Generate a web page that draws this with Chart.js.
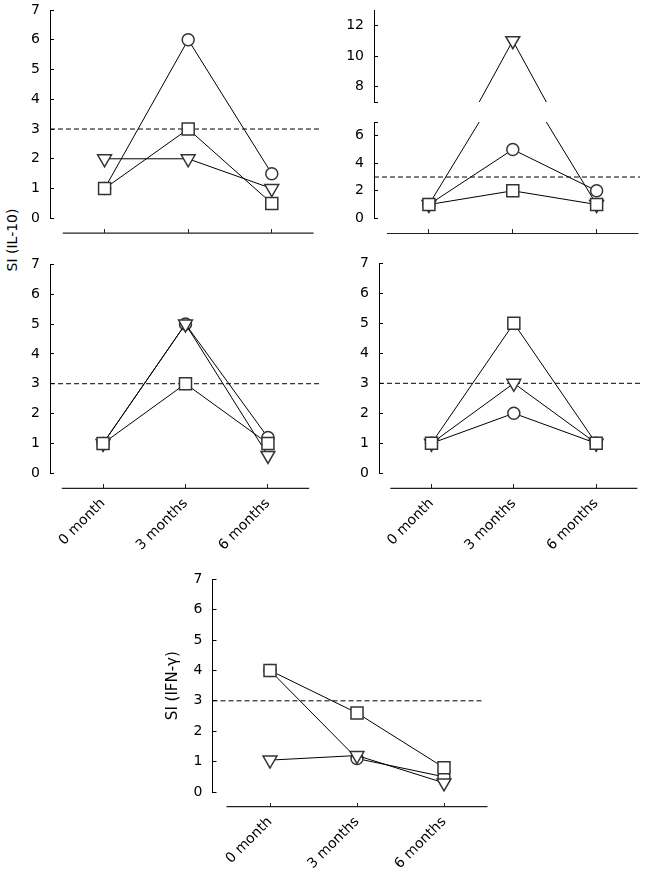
<!DOCTYPE html>
<html>
<head>
<meta charset="utf-8">
<script src="https://cdn.jsdelivr.net/npm/chart.js@4.4.0/dist/chart.umd.min.js"></script>
<style>
  body { margin: 0; background: #fff; }
  #page { position: relative; width: 650px; height: 875px; overflow: hidden; }
  #page canvas { position: absolute; }
  .ytitle {
    position: absolute; font: 14px "DejaVu Sans", sans-serif; color: #000;
    white-space: nowrap; transform: translate(-50%, -50%) rotate(-90deg);
  }
</style>
</head>
<body>
<div id="page">
  <div class="ytitle" style="left:12px; top:240px;">SI (IL-10)</div>
</div>
<script>
const months = [0, 3, 6];
const monthLabels = ["0 month", "3 months", "6 months"];
const threshold = 3;

// SI (IL-10) panels
const tlSquare = [1, 3, 0.5];
const tlTriangle = [2, 2, 1];
const tlCircle = [1, 6, 1.5];

const trSquare = [1, 2, 1];
const trTriangle = [1, 11, 1];
const trCircle = [1, 5, 2];

const mlSquare = [1, 3, 1];
const mlTriangle = [1, 5, 0.6];
const mlCircle = [1, 5, 1.2];

const mrSquare = [1, 5, 1];
const mrTriangle = [1, 3, 1];
const mrCircle = [1, 2, 1];

// SI (IFN-γ) panel
const bSquare = [4, 2.6, 0.8];
const bTriangle = [1.05, 1.2, 0.3];
const bCircle = [4, 1.1, 0.5];

const yTicksFull = [0, 1, 2, 3, 4, 5, 6, 7];
const yTicksLow = [0, 2, 4, 6, 7];
const yTicksHigh = [7, 8, 10, 12];

Chart.defaults.font.family = "'DejaVu Sans', sans-serif";
Chart.defaults.font.size = 14;
Chart.defaults.color = "#000";

const markers = {
  square: { pointStyle: "rect", pointRadius: 8.5, pointRotation: 0 },
  triangle: { pointStyle: "triangle", pointRadius: 8, pointRotation: 180 },
  circle: { pointStyle: "circle", pointRadius: 6, pointRotation: 0 }
};

function seriesSet(kind, values) {
  return Object.assign({
    data: values.map((v, i) => ({ x: months[i], y: v })),
    borderColor: "#000",
    borderWidth: 1,
    pointBackgroundColor: "#fff",
    pointBorderColor: "#333",
    pointBorderWidth: 1.5,
    pointHoverRadius: 0,
    tension: 0
  }, markers[kind]);
}

// box: canvas rect on the page, g: pixel geometry of the plot
function panel(box, g, yMin, yMax, yTicks, series, extra) {
  const canvas = document.createElement("canvas");
  canvas.width = box.w;
  canvas.height = box.h;
  canvas.style.left = box.x + "px";
  canvas.style.top = box.y + "px";
  document.getElementById("page").appendChild(canvas);

  const pxMonth = g.step / 3;
  const xMin = -(g.tick0 - g.axisX) / pxMonth;
  const xMax = (g.right - g.tick0) / pxMonth;
  const pxUnit = (g.bottom - g.top) / (yMax - yMin);
  const axisW = extra.axisW || 30;

  const datasets = series.map(s => seriesSet(s[0], s[1]));
  if (extra.dashed) {
    datasets.push({
      data: [{ x: xMin, y: threshold }, { x: extra.dashEnd || xMax, y: threshold }],
      borderColor: "#000", borderWidth: 1, borderDash: [5, 3],
      pointRadius: 0, clip: false
    });
  }
  let xPos = "bottom";
  if (g.xAxisY) {
    const axisVal = yMin - (g.xAxisY - g.bottom) / pxUnit;
    xPos = { y: axisVal };
    datasets.push({
      data: [{ x: -1.5, y: axisVal }, { x: 7.5, y: axisVal }],
      borderColor: "#222", borderWidth: 1.2,
      pointRadius: 0, clip: false
    });
  }

  const yScale = {
    type: "linear",
    position: "left",
    min: yMin,
    max: yMax,
    afterBuildTicks: s => { s.ticks = yTicks.map(v => ({ value: v })); },
    afterFit: s => { s.width = axisW; s.paddingTop = 0; s.paddingBottom = 0; },
    ticks: {
      padding: 14,
      callback: v => (extra.hide || []).includes(v) ? "" : v
    },
    grid: { drawOnChartArea: false, tickLength: -4, color: "#000", lineWidth: 1 },
    border: { color: "#000", width: 1 }
  };
  if (extra.title) {
    yScale.title = { display: true, text: extra.title, font: { size: 15 }, padding: 0 };
  }

  return new Chart(canvas, {
    type: "line",
    data: { datasets: datasets },
    options: {
      responsive: false,
      animation: false,
      events: [],
      layout: {
        padding: {
          left: g.axisX - box.x - axisW,
          top: g.top - box.y,
          right: box.x + box.w - g.right,
          bottom: box.y + box.h - g.bottom
        }
      },
      plugins: { legend: { display: false }, tooltip: { enabled: false } },
      scales: {
        x: {
          type: "linear",
          display: !!g.xAxisY,
          position: xPos,
          min: xMin,
          max: xMax,
          afterBuildTicks: s => { s.ticks = months.map(v => ({ value: v })); },
          afterFit: s => { s.paddingLeft = 0; s.paddingRight = 0; },
          ticks: {
            display: !!extra.labels,
            autoSkip: false,
            minRotation: 45,
            maxRotation: 45,
            padding: 11,
            callback: v => monthLabels[months.indexOf(v)]
          },
          grid: { drawOnChartArea: false, tickLength: -4, color: "#222", lineWidth: 1 },
          border: { display: false }
        },
        y: yScale
      }
    }
  });
}

// top-left
panel({ x: 0, y: 0, w: 330, h: 240 },
  { axisX: 50, top: 8, bottom: 218.3, tick0: 106.6, step: 86.7, right: 330, xAxisY: 233.3 },
  0, 7, yTicksFull,
  [["square", tlSquare], ["triangle", tlTriangle], ["circle", tlCircle]],
  { dashed: true });

// top-right, broken axis: upper part
panel({ x: 330, y: 0, w: 320, h: 112 },
  { axisX: 374, top: 5, bottom: 107, tick0: 431, step: 87, right: 650 },
  7, 13, yTicksHigh,
  [["square", trSquare], ["triangle", trTriangle], ["circle", trCircle]],
  { hide: [7] });

// top-right, lower part
panel({ x: 330, y: 112, w: 320, h: 128 },
  { axisX: 374, top: 118.8, bottom: 218.3, tick0: 431, step: 87, right: 650, xAxisY: 234 },
  0, 7, yTicksLow,
  [["square", trSquare], ["triangle", trTriangle], ["circle", trCircle]],
  { dashed: true, hide: [7] });

// middle-left
panel({ x: 0, y: 240, w: 330, h: 320 },
  { axisX: 50, top: 264.3, bottom: 473.3, tick0: 105, step: 85.5, right: 330, xAxisY: 488.3 },
  0, 7, yTicksFull,
  [["square", mlSquare], ["triangle", mlTriangle], ["circle", mlCircle]],
  { dashed: true, labels: true });

// middle-right
panel({ x: 330, y: 240, w: 320, h: 320 },
  { axisX: 379, top: 263.3, bottom: 473.3, tick0: 433.5, step: 85.5, right: 650, xAxisY: 488.3 },
  0, 7, yTicksFull,
  [["square", mrSquare], ["triangle", mrTriangle], ["circle", mrCircle]],
  { dashed: true, labels: true });

// bottom, SI (IFN-γ)
panel({ x: 100, y: 560, w: 450, h: 315 },
  { axisX: 212.5, top: 579.3, bottom: 792, tick0: 270, step: 87, right: 484, xAxisY: 806.7 },
  0, 7, yTicksFull,
  [["square", bSquare], ["triangle", bTriangle], ["circle", bCircle]],
  { dashed: true, labels: true, title: "SI (IFN-γ)", axisW: 48.5 });
</script>
</body>
</html>
